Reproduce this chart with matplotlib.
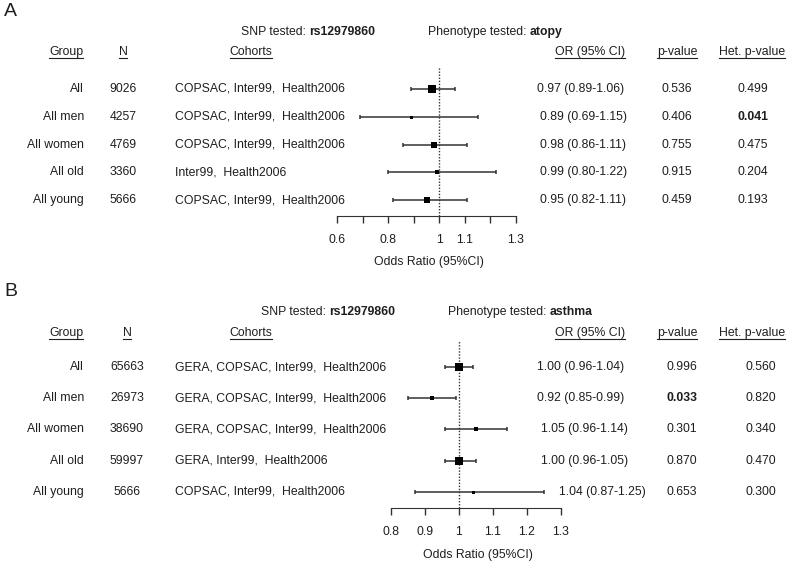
import numpy as np
import matplotlib
matplotlib.use("Agg")
from matplotlib import pyplot as plt
from matplotlib import transforms
from matplotlib.lines import Line2D

plt.rcParams['font.family'] = ['Liberation Sans', 'DejaVu Sans']
FS = 8.8

# ---- data ----
groups = ["All", "All men", "All women", "All old", "All young"]

n_a = ["9026", "4257", "4769", "3360", "5666"]
cohorts_a = ["COPSAC, Inter99,  Health2006", "COPSAC, Inter99,  Health2006",
             "COPSAC, Inter99,  Health2006", "Inter99,  Health2006",
             "COPSAC, Inter99,  Health2006"]
or_a = [0.97, 0.89, 0.98, 0.99, 0.95]
lo_a = [0.89, 0.69, 0.86, 0.80, 0.82]
hi_a = [1.06, 1.15, 1.11, 1.22, 1.11]
p_a = ["0.536", "0.406", "0.755", "0.915", "0.459"]
het_a = ["0.499", "0.041", "0.475", "0.204", "0.193"]
ticks_a = [0.6, 0.7, 0.8, 0.9, 1.0, 1.1, 1.2, 1.3]
ticklabels_a = ["0.6", "", "0.8", "", "1", "1.1", "", "1.3"]

n_b = ["65663", "26973", "38690", "59997", "5666"]
cohorts_b = ["GERA, COPSAC, Inter99,  Health2006", "GERA, COPSAC, Inter99,  Health2006",
             "GERA, COPSAC, Inter99,  Health2006", "GERA, Inter99,  Health2006",
             "COPSAC, Inter99,  Health2006"]
or_b = [1.00, 0.92, 1.05, 1.00, 1.04]
lo_b = [0.96, 0.85, 0.96, 0.96, 0.87]
hi_b = [1.04, 0.99, 1.14, 1.05, 1.25]
p_b = ["0.996", "0.033", "0.301", "0.870", "0.653"]
het_b = ["0.560", "0.820", "0.340", "0.470", "0.300"]
ticks_b = [0.8, 0.9, 1.0, 1.1, 1.2, 1.3]
ticklabels_b = ["0.8", "0.9", "1", "1.1", "1.2", "1.3"]

snp = "rs12979860"

W, H = 787, 564
fig = plt.figure(figsize=(W / 100, H / 100), dpi=100)
renderer = fig.canvas.get_renderer()
TXT = "#1e1e1e"


def fx(x):
    return x / W


def fy(y):
    return 1 - y / H


def underline(t):
    bb = t.get_window_extent(renderer)
    fig.add_artist(Line2D([bb.x0 / W, bb.x1 / W], [(bb.y0 + 0.5) / H] * 2,
                          transform=fig.transFigure, color="#222222", lw=0.8))


def mixed(x, y, normal, bold):
    t = fig.text(fx(x), fy(y), normal, fontsize=FS, va="center", ha="left",
                 color=TXT)
    bb = t.get_window_extent(renderer)
    fig.text(bb.x1 / W, fy(y), bold, fontsize=FS, va="center", ha="left",
             fontweight="bold", color=TXT)


def panel(letter, let_y, ax_px, ylim, snp_x, snp_y, phen_x, phen, head_y,
          n_x, ns, cohorts, ors, los, his, ps, hets, or_x, p_x, het_x,
          ticks, ticklabels, xlab_y, max_side, bold_p, bold_het):
    fig.text(fx(4), fy(let_y), letter, fontsize=14, va="center", ha="left",
             color=TXT)
    mixed(snp_x, snp_y, "SNP tested: ", snp)
    mixed(phen_x, snp_y, "Phenotype tested: ", phen)

    heads = [("Group", 66), ("N", n_x), ("Cohorts", 251), ("OR (95% CI)", 590),
             ("p-value", 677), ("Het. p-value", 752)]
    for txt, x in heads:
        t = fig.text(fx(x), fy(head_y), txt, fontsize=FS, ha="center",
                     va="center", color=TXT)
        underline(t)

    l, r, top, bot = ax_px
    ax = fig.add_axes([fx(l), fy(bot), (r - l) / W, (bot - top) / H])
    ax.set_xlim(ticks[0], ticks[-1])
    ax.set_ylim(*ylim)
    for s in ["left", "right", "top"]:
        ax.spines[s].set_visible(False)
    ax.spines["bottom"].set_bounds(ticks[0], ticks[-1])
    ax.spines["bottom"].set_color("#333333")
    ax.patch.set_alpha(0)
    ax.set_yticks([])
    ax.set_xticks(ticks)
    ax.set_xticklabels(ticklabels)
    ax.tick_params(axis="x", direction="out", length=5, width=1,
                   color="#333333", labelsize=FS, labelcolor=TXT, pad=8)
    ax.axvline(1.0, ls=(0, (1, 1.2)), lw=1, color="#333333")

    ors = np.array(ors)
    los = np.array(los)
    his = np.array(his)
    inv = 1 / np.log(his / los)
    sides = np.maximum(max_side * inv / inv.max(), 3.0) * 0.72
    rows = np.arange(len(ors))
    ax.errorbar(ors, rows, xerr=[ors - los, his - ors], fmt="none",
                ecolor="#333333", elinewidth=1.1, capsize=1.6, capthick=1.1)
    for i in rows:
        ax.plot(ors[i], i, marker="s", ms=sides[i], color="black", mec="black",
                mew=0)

    tr = transforms.blended_transform_factory(fig.transFigure, ax.transData)
    for i in rows:
        ax.text(fx(84), i, groups[i], transform=tr, fontsize=FS, ha="right",
                va="center", color=TXT)
        ax.text(fx(n_x), i, ns[i], transform=tr, fontsize=FS, ha="center",
                va="center", color=TXT)
        ax.text(fx(175), i, cohorts[i], transform=tr, fontsize=FS, ha="left",
                va="center", color=TXT)
        ax.text(fx(or_x[i]), i, f"{ors[i]:.2f} ({los[i]:.2f}-{his[i]:.2f})",
                transform=tr, fontsize=FS, ha="left", va="center", color=TXT)
        ax.text(fx(p_x), i, ps[i], transform=tr, fontsize=FS, ha="center",
                va="center", color=TXT,
                fontweight="bold" if i == bold_p else "normal")
        ax.text(fx(het_x), i, hets[i], transform=tr, fontsize=FS, ha="center",
                va="center", color=TXT,
                fontweight="bold" if i == bold_het else "normal")

    fig.text(fx((l + r) / 2 + 2), fy(xlab_y), "Odds Ratio (95%CI)", fontsize=FS,
             ha="center", va="center", color=TXT)
    return ax


panel("A", 12, (337, 516, 67, 216), (4.57, -0.79), 241, 32, 428, "atopy", 52,
      123, n_a, cohorts_a, or_a, lo_a, hi_a, p_a, het_a,
      [537, 540, 540, 540, 540], 677, 753,
      ticks_a, ticklabels_a, 262, 8.7, -1, 1)

panel("B", 291, (391, 561, 340, 508), (4.52, -0.87), 261, 312, 448, "asthma", 333,
      127, n_b, cohorts_b, or_b, lo_b, hi_b, p_b, het_b,
      [537, 537, 541, 541, 559], 682, 761,
      ticks_b, ticklabels_b, 555, 8.7, 1, -1)

fig.savefig("out.png", dpi=100)
